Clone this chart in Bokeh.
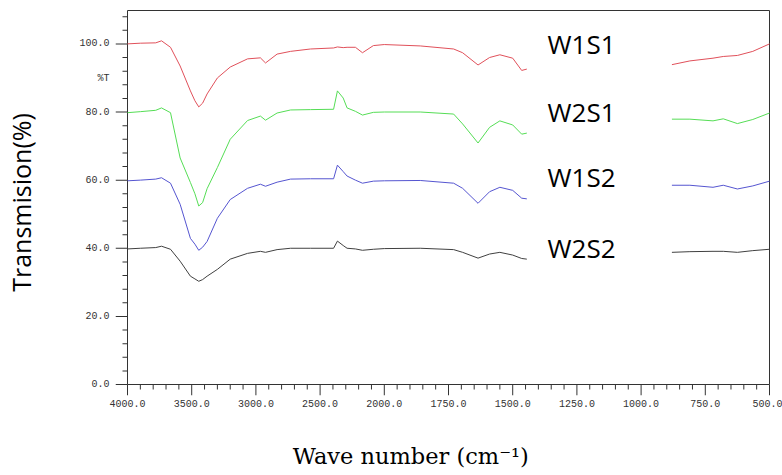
import numpy as np
from bokeh.plotting import figure
from bokeh.models import Range1d, FixedTicker, CustomJSTickFormatter
from bokeh.core.properties import value
from bokeh.embed import file_html
from bokeh.resources import INLINE

# ---------------- data ----------------
wn_left = [4000, 3900, 3780, 3735, 3665, 3590, 3510, 3475, 3445, 3415, 3380, 3300,
           3200, 3065, 2965, 2925, 2835, 2730, 2575, 2395, 2365, 2320, 2290, 2225,
           2170, 2085, 2000, 1860, 1730, 1695, 1635, 1590, 1550, 1500, 1465, 1445]
wn_right = [880, 810, 720, 680, 625, 565, 500]

w1s1_left = [100.0, 100.2, 100.3, 100.9, 99.0, 93.5, 86.2, 83.3, 81.5, 82.6, 85.3, 90.0,
             93.2, 95.6, 95.9, 94.4, 97.0, 97.8, 98.5, 98.8, 99.1, 98.9, 99.0, 99.0,
             97.4, 99.5, 99.8, 99.4, 98.5, 97.4, 93.8, 96.0, 96.8, 95.8, 92.2, 92.6]
w1s1_right = [93.9, 95.0, 95.8, 96.3, 96.6, 97.8, 100.0]

w2s1_left = [79.8, 80.1, 80.5, 81.2, 79.8, 66.5, 59.3, 56.0, 52.4, 53.4, 57.5, 63.7,
             72.0, 77.5, 78.8, 77.6, 79.7, 80.6, 80.7, 80.8, 86.2, 84.1, 81.2, 80.2,
             79.1, 79.9, 80.0, 80.0, 79.4, 76.5, 70.9, 75.5, 77.4, 76.2, 73.5, 73.8]
w2s1_right = [77.9, 77.9, 77.4, 78.0, 76.6, 77.8, 79.7]

w1s2_left = [59.8, 60.0, 60.3, 60.7, 59.1, 52.9, 42.9, 41.2, 39.4, 40.3, 42.0, 48.8,
             54.3, 57.6, 58.8, 58.2, 59.4, 60.3, 60.4, 60.4, 64.4, 62.5, 61.2, 60.0,
             59.1, 59.7, 59.8, 59.9, 59.1, 57.6, 53.2, 56.6, 57.9, 57.0, 54.7, 54.5]
w1s2_right = [58.5, 58.5, 57.9, 58.5, 57.4, 58.3, 59.7]

w2s2_left = [39.8, 40.0, 40.2, 40.6, 39.7, 36.2, 31.8, 31.0, 30.3, 30.8, 31.8, 33.8,
             36.8, 38.5, 39.1, 38.8, 39.6, 40.0, 40.0, 40.0, 42.1, 40.8, 40.0, 39.8,
             39.4, 39.7, 39.9, 40.0, 39.6, 38.8, 37.1, 38.3, 38.8, 38.0, 37.0, 36.8]
w2s2_right = [38.8, 39.0, 39.1, 39.1, 38.8, 39.3, 39.7]

series_names = ["W1S1", "W2S1", "W1S2", "W2S2"]
series_colors = ["#e0505a", "#55dd55", "#5555d0", "#404040"]
label_levels = [100, 80, 61, 40]
label_wn = 1232

x_tick_wn = [4000, 3500, 3000, 2500, 2000, 1750, 1500, 1250, 1000, 750, 500]
x_tick_labels = ["4000.0", "3500.0", "3000.0", "2500.0", "2000.0", "1750.0",
                 "1500.0", "1250.0", "1000.0", "750.0", "500.0"]
x_minor_wn = list(range(4000, 2000, -100)) + list(range(2000, 499, -50))
y_ticks = [0, 20, 40, 60, 80, 100]
y_minor = list(range(0, 112, 4))
y_unit_pos = 89.7           # "%T" unit marker beside the axis
y_top = 109.8

# ---------------- layout (pixels on the canvas) ----------------
W, H = 782, 475
AX_L, AX_R, AX_T, AX_B = 127, 769, 10, 384      # plot box
YT_MAJ, YT_MIN, XT_MAJ, XT_MIN = 12, 5, 11, 5   # tick lengths
PAD = 1


# the instrument scale changes at 2000 cm-1 (500 per division above, 250 below)
def to_u(w):
    w = np.asarray(w, dtype=float)
    return np.where(w >= 2000, (4000 - w) / 500.0, 4 + (2000 - w) / 250.0)


u_lo, u_hi = 0.0, float(to_u(500))
sx = (AX_R - AX_L) / (u_hi - u_lo)
sy = (AX_B - AX_T) / (y_top - 0.0)

p = figure(width=W, height=H,
           x_range=Range1d(u_lo - YT_MAJ / sx, u_hi + PAD / sx),
           y_range=Range1d(0.0 - XT_MAJ / sy, y_top + PAD / sy),
           output_backend="svg", toolbar_location=None,
           min_border_left=AX_L - YT_MAJ, min_border_right=W - (AX_R + PAD),
           min_border_top=AX_T - PAD, min_border_bottom=H - (AX_B + XT_MAJ))
p.xgrid.visible = False
p.ygrid.visible = False
p.outline_line_color = None
p.background_fill_color = None
p.border_fill_color = None

# ---- axes: labels only (marks drawn below through the same scales) ----
tick_u = [float(v) for v in to_u(x_tick_wn)]
p.xaxis.ticker = FixedTicker(ticks=tick_u)
p.xaxis.formatter = CustomJSTickFormatter(
    args=dict(tpos=tick_u, tlabels=x_tick_labels),
    code="""let b = 0;
for (let i = 0; i < tpos.length; i++) {
  if (Math.abs(tpos[i] - tick) < Math.abs(tpos[b] - tick)) b = i;
}
return tlabels[b];""")
p.yaxis.ticker = FixedTicker(ticks=y_ticks + [y_unit_pos])
p.yaxis.formatter = CustomJSTickFormatter(
    args=dict(unit_pos=y_unit_pos),
    code="""if (Math.abs(tick - unit_pos) < 1e-6) return "%T";
return tick.toFixed(1);""")

p.axis.axis_line_color = None
p.axis.major_tick_line_color = None
p.axis.minor_tick_line_color = None
p.axis.major_tick_in = 0
p.axis.major_tick_out = 0
p.axis.minor_tick_in = 0
p.axis.minor_tick_out = 0
p.axis.major_label_text_font = "Liberation Mono"
p.axis.major_label_text_font_size = "10px"
p.axis.major_label_text_color = "#333333"
p.xaxis.major_label_standoff = 4
p.yaxis.major_label_standoff = 6

p.yaxis.axis_label = "Transmision(%)"
p.yaxis.axis_label_text_font = "Open Sans"
p.yaxis.axis_label_text_font_size = "25px"
p.yaxis.axis_label_text_font_style = "normal"
p.yaxis.axis_label_text_color = "black"
p.yaxis.axis_label_standoff = 38

p.xaxis.axis_label = "Wave number (cm\u207b\u00b9)" + "\u00a0" * 9
p.xaxis.axis_label_text_font = "DejaVu Serif"
p.xaxis.axis_label_text_font_size = "22.5px"
p.xaxis.axis_label_text_font_style = "normal"
p.xaxis.axis_label_text_color = "black"
p.xaxis.axis_label_standoff = 33

# ---- plot box ----
frame_col = "#333333"
p.segment(x0=[u_lo, u_lo, u_lo, u_hi], y0=[0.0, y_top, 0.0, 0.0],
          x1=[u_hi, u_hi, u_lo, u_hi], y1=[0.0, y_top, y_top, y_top],
          line_color=frame_col, line_width=1)

# ---- tick marks, drawn as thin filled bars (1 px thick) ----
y_min_only = [v for v in y_minor if v not in y_ticks]
x_min_u = [float(v) for v in to_u([w for w in x_minor_wn if w not in x_tick_wn])]

p.rect(x=[u_lo - YT_MAJ / (2 * sx)] * len(y_ticks), y=y_ticks,
       width=YT_MAJ / sx, height=1.0 / sy,
       fill_color=frame_col, line_color=None)
p.rect(x=[u_lo - YT_MIN / (2 * sx)] * len(y_min_only), y=y_min_only,
       width=YT_MIN / sx, height=1.0 / sy,
       fill_color=frame_col, line_color=None)
p.rect(x=tick_u, y=[-XT_MAJ / (2 * sy)] * len(tick_u),
       width=1.0 / sx, height=XT_MAJ / sy,
       fill_color=frame_col, line_color=None)
p.rect(x=x_min_u, y=[-XT_MIN / (2 * sy)] * len(x_min_u),
       width=1.0 / sx, height=XT_MIN / sy,
       fill_color=frame_col, line_color=None)

# ---- spectra ----
lefts = [w1s1_left, w2s1_left, w1s2_left, w2s2_left]
rights = [w1s1_right, w2s1_right, w1s2_right, w2s2_right]
for lv, rv, col in zip(lefts, rights, series_colors):
    xs = np.concatenate([to_u(wn_left), [np.nan], to_u(wn_right)])
    ys = np.concatenate([np.asarray(lv, float), [np.nan], np.asarray(rv, float)])
    p.line(xs, ys, line_color=col, line_width=1)

lx = float(to_u(label_wn))
p.text(x=[lx] * len(series_names), y=label_levels, text=series_names,
       text_align="center", text_baseline="middle", text_font=value("Open Sans"),
       text_font_size="26px", text_color="black")

open("out.html", "w").write(file_html(p, INLINE))
